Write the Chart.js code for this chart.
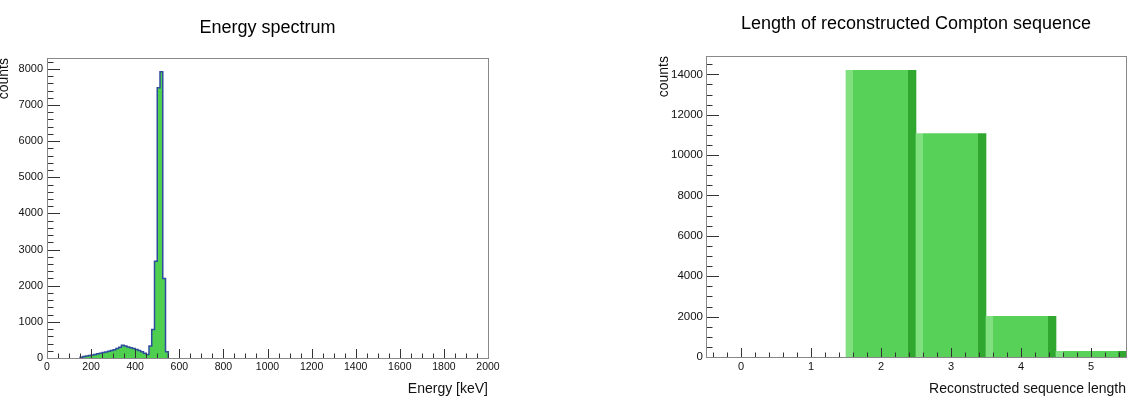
<!DOCTYPE html>
<html>
<head>
<meta charset="utf-8">
<script src="https://cdn.jsdelivr.net/npm/chart.js@4.4.1/dist/chart.umd.min.js"></script>
<style>
  html, body { margin: 0; padding: 0; background: #fff; overflow: hidden; }
  .pad { position: absolute; top: 0; }
</style>
</head>
<body>
<div class="pad" style="left:0px"><canvas id="energia" width="570" height="412"></canvas></div>
<div class="pad" style="left:570px"><canvas id="sequencia" width="571" height="412"></canvas></div>
<script>
// Espectro de energia: limite inferior de cada bin (keV) e contagens
const energyBinLow = [150, 162.5, 175, 187.5, 200, 212.5, 225, 237.5, 250, 262.5, 275, 287.5,
                      300, 312.5, 325, 337.5, 350, 362.5, 375, 387.5, 400, 412.5, 425, 437.5,
                      450, 462.5, 475, 487.5, 500, 512.5, 525, 537.5];
const energyCounts = [20, 40, 55, 70, 85, 100, 115, 130, 150, 165, 185, 205,
                      230, 260, 300, 350, 330, 305, 285, 260, 235, 205, 170, 130,
                      95, 330, 790, 2680, 7480, 7920, 2200, 170];
const energyBinEnd = 550;
const energyTicks = [0, 200, 400, 600, 800, 1000, 1200, 1400, 1600, 1800, 2000];
const energyCountTicks = [0, 1000, 2000, 3000, 4000, 5000, 6000, 7000, 8000];

// Comprimento da sequência Compton reconstruída
const seqLengths = [0, 1, 2, 3, 4, 5];
const seqCounts = [0, 0, 14200, 11070, 2010, 280];
const seqCountTicks = [0, 2000, 4000, 6000, 8000, 10000, 12000, 14000];

const fonte = "'Liberation Sans', Arial, Helvetica, sans-serif";
Chart.defaults.font.family = fonte;
Chart.defaults.color = '#111';

// Moldura estilo ROOT com marcas para dentro
const rootFrame = {
  id: 'rootFrame',
  afterDatasetsDraw(chart, args, opts) {
    const { ctx, chartArea: a, scales: { x, y } } = chart;
    ctx.save();
    ctx.lineWidth = 1;
    ctx.strokeStyle = opts.tickColor;
    ctx.beginPath();
    const k0 = Math.ceil(x.min / opts.xMinor - 1e-6), k1 = Math.floor(x.max / opts.xMinor + 1e-6);
    for (let k = k0; k <= k1; k++) {
      const v = k * opts.xMinor;
      const r = v / opts.xMajor;
      const major = Math.abs(r - Math.round(r)) < 1e-6;
      const px = Math.round(x.getPixelForValue(v)) + 0.5;
      ctx.moveTo(px, a.bottom);
      ctx.lineTo(px, a.bottom - (major ? opts.xLen : opts.xLen / 2));
    }
    const j0 = Math.ceil(y.min / opts.yMinor - 1e-6), j1 = Math.floor(y.max / opts.yMinor + 1e-6);
    for (let j = j0; j <= j1; j++) {
      const v = j * opts.yMinor;
      const r = v / opts.yMajor;
      const major = Math.abs(r - Math.round(r)) < 1e-6;
      const py = Math.round(y.getPixelForValue(v)) + 0.5;
      ctx.moveTo(a.left, py);
      ctx.lineTo(a.left + (major ? opts.yLen : opts.yLen / 2), py);
    }
    ctx.stroke();
    ctx.strokeStyle = opts.frameColor;
    ctx.strokeRect(Math.round(a.left) + 0.5, Math.round(a.top) + 0.5,
                   Math.round(a.width), Math.round(a.height));
    ctx.restore();
  }
};

const semMilhar = (v) => String(v);

// Gráfico do espectro de energia (histograma em degraus)
const pontosEnergia = [{ x: energyBinLow[0], y: 0 }];
energyBinLow.forEach((e, i) => pontosEnergia.push({ x: e, y: energyCounts[i] }));
pontosEnergia.push({ x: energyBinEnd, y: 0 });

new Chart(document.getElementById('energia'), {
  type: 'line',
  data: {
    datasets: [{
      label: 'Energy spectrum',
      data: pontosEnergia,
      stepped: 'before',
      fill: 'origin',
      backgroundColor: '#4fcf4f',
      borderColor: '#2f4d9e',
      borderWidth: 1.5,
      pointRadius: 0
    }]
  },
  options: {
    responsive: false,
    animation: false,
    devicePixelRatio: 1,
    layout: { padding: { left: 0, right: 82, top: 0, bottom: 0 } },
    plugins: {
      legend: { display: false },
      tooltip: { enabled: false },
      title: {
        display: true,
        text: 'Energy spectrum',
        fullSize: false,
        color: '#000',
        font: { size: 18, weight: 'normal' },
        padding: { top: 17, bottom: 19.4 }
      },
      rootFrame: { xMinor: 50, xMajor: 200, xLen: 9, yMinor: 200, yMajor: 1000, yLen: 13,
                   tickColor: '#333', frameColor: '#888' }
    },
    scales: {
      x: {
        type: 'linear',
        min: 0,
        max: 2000,
        afterBuildTicks: (s) => { s.ticks = energyTicks.map(v => ({ value: v })); },
        afterFit: (s) => { s.height = 54; },
        grid: { display: false, drawTicks: false },
        border: { display: false },
        ticks: { font: { size: 10.5 }, padding: 3, maxRotation: 0, callback: semMilhar },
        title: { display: true, text: 'Energy [keV]', align: 'end', font: { size: 14 }, padding: { top: 0, bottom: 14.6 } }
      },
      y: {
        min: 0,
        max: 8300,
        afterBuildTicks: (s) => { s.ticks = energyCountTicks.map(v => ({ value: v })); },
        afterFit: (s) => { s.width = 47; },
        grid: { display: false, drawTicks: false },
        border: { display: false },
        ticks: { font: { size: 11 }, padding: 4, callback: semMilhar },
        title: { display: true, text: 'counts', align: 'end', font: { size: 14, lineHeight: 1 }, padding: { top: -3, bottom: 0 } }
      }
    }
  },
  plugins: [rootFrame]
});

// Gráfico do comprimento da sequência (barras com sombreado)
function corBarra(c) {
  const x = c.chart.scales.x;
  if (!x || !c.raw) return '#58d158';
  const x0 = x.getPixelForValue(c.raw.x - 0.5);
  const x1 = x.getPixelForValue(c.raw.x + 0.5);
  if (!isFinite(x0) || !isFinite(x1)) return '#58d158';
  const g = c.chart.ctx.createLinearGradient(x0, 0, x1, 0);
  g.addColorStop(0, '#80e080');
  g.addColorStop(0.1, '#80e080');
  g.addColorStop(0.1, '#58d158');
  g.addColorStop(0.89, '#58d158');
  g.addColorStop(0.89, '#30a830');
  g.addColorStop(1, '#30a830');
  return g;
}

// bins vazios não são desenhados
const pontosSeq = seqLengths
  .map((n, i) => ({ x: n, y: seqCounts[i] }))
  .filter(p => p.y > 0);

new Chart(document.getElementById('sequencia'), {
  type: 'bar',
  data: {
    datasets: [{
      label: 'Length of reconstructed Compton sequence',
      data: pontosSeq,
      backgroundColor: corBarra,
      borderWidth: 0,
      barPercentage: 1,
      categoryPercentage: 1
    }]
  },
  options: {
    responsive: false,
    animation: false,
    devicePixelRatio: 1,
    layout: { padding: { left: 0, right: 15, top: 0, bottom: 0 } },
    plugins: {
      legend: { display: false },
      tooltip: { enabled: false },
      title: {
        display: true,
        text: 'Length of reconstructed Compton sequence',
        fullSize: false,
        color: '#000',
        font: { size: 18, weight: 'normal' },
        padding: { top: 13, bottom: 21.4 }
      },
      rootFrame: { xMinor: 0.2, xMajor: 1, xLen: 9, yMinor: 500, yMajor: 2000, yLen: 13,
                   tickColor: '#333', frameColor: '#888' }
    },
    scales: {
      x: {
        type: 'linear',
        min: -0.5,
        max: 5.5,
        offset: false,
        afterBuildTicks: (s) => { s.ticks = seqLengths.map(v => ({ value: v })); },
        afterFit: (s) => { s.height = 55; },
        grid: { display: false, drawTicks: false, offset: false },
        border: { display: false },
        ticks: { font: { size: 11 }, padding: 3, maxRotation: 0, callback: semMilhar },
        title: { display: true, text: 'Reconstructed sequence length', align: 'end', font: { size: 14 }, padding: { top: 0, bottom: 14.6 } }
      },
      y: {
        min: 0,
        max: 14910,
        afterBuildTicks: (s) => { s.ticks = seqCountTicks.map(v => ({ value: v })); },
        afterFit: (s) => { s.width = 136; },
        grid: { display: false, drawTicks: false },
        border: { display: false },
        ticks: { font: { size: 11.5 }, padding: 3, callback: semMilhar },
        title: { display: true, text: 'counts', align: 'end', font: { size: 14 }, padding: { top: 85.6, bottom: 0 } }
      }
    }
  },
  plugins: [rootFrame]
});
</script>
</body>
</html>
